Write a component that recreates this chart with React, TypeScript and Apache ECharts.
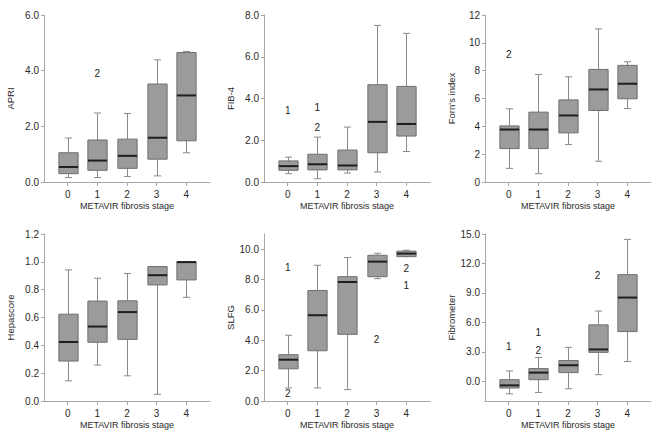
import React, { useEffect, useRef } from "react";
import * as echarts from "echarts";

const stages = [0, 1, 2, 3, 4];
const stageLabels = ["0", "1", "2", "3", "4"];
const xAxisName = "METAVIR fibrosis stage";

// Each box: [lower whisker, Q1, median, Q3, upper whisker]
const apriBoxes = [
  [0.16, 0.30, 0.54, 1.05, 1.58],
  [0.16, 0.42, 0.77, 1.51, 2.48],
  [0.20, 0.49, 0.94, 1.54, 2.46],
  [0.22, 0.82, 1.59, 3.52, 4.39],
  [1.05, 1.48, 3.11, 4.65, 4.69],
];
const apriOutliers: [number, number, string][] = [[1, 3.89, "2"]];
const apriTicks = [0, 2, 4, 6];

const fib4Boxes = [
  [0.40, 0.56, 0.76, 1.01, 1.19],
  [0.16, 0.58, 0.85, 1.33, 2.15],
  [0.43, 0.58, 0.79, 1.53, 2.63],
  [0.48, 1.40, 2.88, 4.66, 7.50],
  [1.46, 2.20, 2.78, 4.58, 7.12],
];
const fib4Outliers: [number, number, string][] = [
  [0, 3.42, "1"],
  [1, 3.58, "1"],
  [1, 2.60, "2"],
];
const fib4Ticks = [0, 2, 4, 6, 8];

const fornBoxes = [
  [0.98, 2.40, 3.77, 4.03, 5.26],
  [0.60, 2.40, 3.77, 5.02, 7.73],
  [2.69, 3.53, 4.78, 5.90, 7.56],
  [1.49, 5.14, 6.65, 8.09, 11.0],
  [5.28, 5.98, 7.06, 8.38, 8.64],
];
const fornOutliers: [number, number, string][] = [[0, 9.17, "2"]];
const fornTicks = [0, 2, 4, 6, 8, 10, 12];

const hepaBoxes = [
  [0.145, 0.287, 0.424, 0.624, 0.942],
  [0.258, 0.422, 0.535, 0.718, 0.882],
  [0.181, 0.443, 0.639, 0.720, 0.916],
  [0.048, 0.834, 0.904, 0.966, 0.966],
  [0.745, 0.870, 0.998, 1.0, 1.0],
];
const hepaOutliers: [number, number, string][] = [];
const hepaTicks = [0, 0.2, 0.4, 0.6, 0.8, 1.0, 1.2];

const slfgBoxes = [
  [0.86, 2.12, 2.72, 3.05, 4.33],
  [0.86, 3.31, 5.65, 7.28, 8.94],
  [0.75, 4.39, 7.84, 8.19, 9.45],
  [8.06, 8.19, 9.18, 9.60, 9.73],
  [9.51, 9.51, 9.71, 9.87, 9.93],
];
const slfgOutliers: [number, number, string][] = [
  [0, 8.81, "1"],
  [0, 0.51, "2"],
  [3, 4.08, "2"],
  [4, 8.74, "2"],
  [4, 7.64, "1"],
];
const slfgTicks = [0, 2, 4, 6, 8, 10];

const fibroBoxes = [
  [-1.27, -0.68, -0.41, 0.17, 1.06],
  [-1.13, 0.17, 0.89, 1.30, 2.43],
  [-0.75, 0.89, 1.64, 2.12, 3.46],
  [0.68, 2.95, 3.25, 5.75, 7.16],
  [2.02, 5.07, 8.53, 10.86, 14.45],
];
const fibroOutliers: [number, number, string][] = [
  [0, 3.53, "1"],
  [1, 4.97, "1"],
  [1, 3.18, "2"],
  [3, 10.82, "2"],
];
const fibroTicks = [0, 3, 6, 9, 12, 15];

const panels = [
  { name: "APRI", boxes: apriBoxes, outliers: apriOutliers, ticks: apriTicks, min: 0, max: 6, dec: 1 },
  { name: "FIB-4", boxes: fib4Boxes, outliers: fib4Outliers, ticks: fib4Ticks, min: 0, max: 8, dec: 1 },
  { name: "Forn's index", boxes: fornBoxes, outliers: fornOutliers, ticks: fornTicks, min: 0, max: 12, dec: 0 },
  { name: "Hepascore", boxes: hepaBoxes, outliers: hepaOutliers, ticks: hepaTicks, min: 0, max: 1.2, dec: 1 },
  { name: "SLFG", boxes: slfgBoxes, outliers: slfgOutliers, ticks: slfgTicks, min: 0, max: 11, dec: 1 },
  { name: "Fibrometer", boxes: fibroBoxes, outliers: fibroOutliers, ticks: fibroTicks, min: -2, max: 15, dec: 1 },
];

const FONT = "Liberation Sans";
const AXIS_COLOR = "#a6a6a6";
const TEXT_COLOR = "#2a2a2a";
const BOX_W = 0.65;
const CAP_W = 0.24;
const colLefts = [44, 264, 485];
const rowTops = [15, 234];
const GRID_W = 166;
const GRID_H = 167;

export default function App() {
  const ref = useRef<HTMLDivElement>(null);
  useEffect(() => {
    if (!ref.current) return;
    const chart = echarts.init(ref.current, null, { renderer: "svg" });

    const grid: any[] = [];
    const xAxis: any[] = [];
    const yAxis: any[] = [];
    const series: any[] = [];

    panels.forEach((p, i) => {
      const col = i % 3;
      const row = Math.floor(i / 3);
      grid.push({ left: colLefts[col], top: rowTops[row], width: GRID_W, height: GRID_H });
      xAxis.push({
        type: "value",
        gridIndex: i,
        min: -0.8,
        max: 4.8,
        name: xAxisName,
        nameLocation: "middle",
        nameGap: 19,
        nameTextStyle: { fontFamily: FONT, fontSize: 9, color: TEXT_COLOR, verticalAlign: "top" },
        splitLine: { show: false },
        axisLine: { onZero: false, lineStyle: { color: AXIS_COLOR, width: 1 } },
        axisTick: { show: true, length: 4, customValues: stages, lineStyle: { color: AXIS_COLOR } },
        axisLabel: {
          customValues: stages,
          margin: 7,
          fontFamily: FONT,
          fontSize: 10,
          color: TEXT_COLOR,
          formatter: (v: number) => stageLabels[Math.round(v)] ?? "",
        },
      });
      yAxis.push({
        type: "value",
        gridIndex: i,
        min: p.min,
        max: p.max,
        name: p.name,
        nameLocation: "middle",
        nameRotate: 90,
        nameGap: 29,
        nameTextStyle: { fontFamily: FONT, fontSize: 9.5, color: TEXT_COLOR },
        splitLine: { show: false },
        axisLine: { show: true, onZero: false, lineStyle: { color: AXIS_COLOR, width: 1 } },
        axisTick: { show: true, length: 3, customValues: p.ticks, lineStyle: { color: AXIS_COLOR } },
        axisLabel: {
          customValues: p.ticks,
          margin: 5,
          fontFamily: FONT,
          fontSize: 10,
          color: TEXT_COLOR,
          formatter: (v: number) => v.toFixed(p.dec),
        },
      });

      series.push({
        type: "custom",
        xAxisIndex: i,
        yAxisIndex: i,
        encode: { x: 0, y: [1, 2, 3, 4, 5] },
        data: p.boxes.map((b, k) => [stages[k], ...b]),
        renderItem: (params: any, api: any) => {
          const x = api.value(0);
          const lo = api.coord([x, api.value(1)]);
          const q1 = api.coord([x, api.value(2)]);
          const med = api.coord([x, api.value(3)]);
          const q3 = api.coord([x, api.value(4)]);
          const hi = api.coord([x, api.value(5)]);
          const bw = api.size([BOX_W, 0])[0];
          const cw = api.size([CAP_W, 0])[0];
          const cx = Math.round(lo[0]) + 0.5;
          const whisk = { stroke: "#8a8a8a", lineWidth: 1 };
          return {
            type: "group",
            children: [
              { type: "line", shape: { x1: cx, y1: lo[1], x2: cx, y2: q1[1] }, style: whisk },
              { type: "line", shape: { x1: cx, y1: q3[1], x2: cx, y2: hi[1] }, style: whisk },
              { type: "line", shape: { x1: cx - cw / 2, y1: lo[1], x2: cx + cw / 2, y2: lo[1] }, style: whisk },
              { type: "line", shape: { x1: cx - cw / 2, y1: hi[1], x2: cx + cw / 2, y2: hi[1] }, style: whisk },
              {
                type: "rect",
                shape: { x: cx - bw / 2, y: q3[1], width: bw, height: q1[1] - q3[1] },
                style: { fill: "#9b9b9b", stroke: "#6f6f6f", lineWidth: 1 },
              },
              {
                type: "line",
                shape: { x1: cx - bw / 2, y1: med[1], x2: cx + bw / 2, y2: med[1] },
                style: { stroke: "#1e1e1e", lineWidth: 2 },
              },
            ],
          };
        },
      });

      if (p.outliers.length) {
        series.push({
          type: "custom",
          xAxisIndex: i,
          yAxisIndex: i,
          encode: { x: 0, y: 1 },
          data: p.outliers.map((o) => [o[0], o[1]]),
          renderItem: (params: any, api: any) => {
            const pt = api.coord([api.value(0), api.value(1)]);
            return {
              type: "text",
              x: pt[0],
              y: pt[1],
              style: {
                text: p.outliers[params.dataIndex][2],
                fill: "#222222",
                font: `10px "${FONT}"`,
                align: "center",
                verticalAlign: "middle",
              },
            };
          },
        });
      }
    });

    chart.setOption({
      animation: false,
      backgroundColor: "#ffffff",
      grid,
      xAxis,
      yAxis,
      series,
    });
    return () => chart.dispose();
  }, []);

  return (
    <div
      ref={ref}
      style={{ position: "absolute", left: 0, top: 0, width: 663, height: 435 }}
    />
  );
}
